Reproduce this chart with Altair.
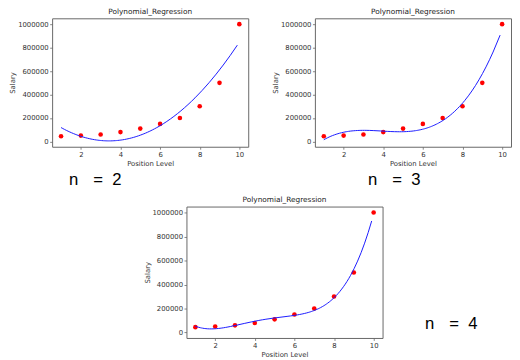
import altair as alt
import pandas as pd

levels = [1, 2, 3, 4, 5, 6, 7, 8, 9, 10]
salaries = [45000, 50000, 60000, 80000, 110000, 150000, 200000, 300000, 500000, 1000000]
degrees = [2, 3, 4]
labels = ["n = 2", "n = 3", "n = 4"]
x_ticks = [2, 4, 6, 8, 10]
y_ticks = [0, 200000, 400000, 600000, 800000, 1000000]
x_domain = [0.55, 10.45]
y_domain = [-45000, 1050000]
curve_extent = [1, 9.9]

df = pd.DataFrame({"level": levels, "salary": salaries})
FONT = "DejaVu Sans"


def spaced(s):
    a, b, c = s.split(" ")
    return a + "\u2002\u2009\u2009" + b + "\u00a0\u00a0" + c


def panel(order, label, h, lx, ly):
    x = alt.X("level:Q",
              scale=alt.Scale(domain=x_domain, nice=False, zero=False),
              axis=alt.Axis(values=x_ticks, title="Position Level"))
    y = alt.Y("salary:Q",
              scale=alt.Scale(domain=y_domain, nice=False, zero=False),
              axis=alt.Axis(values=y_ticks, format="d", title="Salary"))
    base = alt.Chart(df)
    pts = base.mark_circle(color="#ff0000", size=22, opacity=1).encode(x=x, y=y)
    line = base.transform_regression(
        "level", "salary", method="poly", order=order, extent=curve_extent
    ).mark_line(color="#1a1aff", strokeWidth=1, clip=True).encode(x=x, y=y)
    txt = alt.Chart(pd.DataFrame({"t": [spaced(label)]})).mark_text(
        font="Liberation Sans", fontSize=17, color="black", align="center",
        baseline="alphabetic"
    ).encode(text="t:N", x=alt.value(lx), y=alt.value(ly))
    return alt.layer(pts, line, txt).properties(
        width=200, height=h,
        title=alt.TitleParams("Polynomial_Regression", fontSize=7.5, font=FONT,
                              fontWeight="normal", color="#222", offset=3),
    )


p1 = panel(degrees[0], labels[0], 131, 44, 170)
p2 = panel(degrees[1], labels[1], 131, 81, 170)
p3 = panel(degrees[2], labels[2], 134, 270, 125)

spacer = alt.Chart(pd.DataFrame({"a": [0]})).mark_point(opacity=0, size=1).encode(
    x=alt.value(0), y=alt.value(0)
).properties(width=92, height=1, view=alt.ViewBackground(stroke=None))

top = alt.hconcat(p1, p2, spacing=22)
bottom = alt.hconcat(spacer, p3, spacing=0)

chart = alt.vconcat(top, bottom, spacing=7).properties(
    padding={"top": -4, "left": 0, "right": 0, "bottom": 0}
).configure_view(
    stroke="#666", strokeWidth=1
).configure_axis(
    domain=False, grid=False, tickColor="#666", tickSize=2.5, tickWidth=0.8,
    labelFont=FONT, labelFontSize=7, labelColor="#333", labelPadding=1.5,
    titleFont=FONT, titleFontSize=7, titleFontWeight="normal", titleColor="#333",
    titlePadding=2,
)

chart.save("out.html", embed_options={"renderer": "svg", "actions": False})
